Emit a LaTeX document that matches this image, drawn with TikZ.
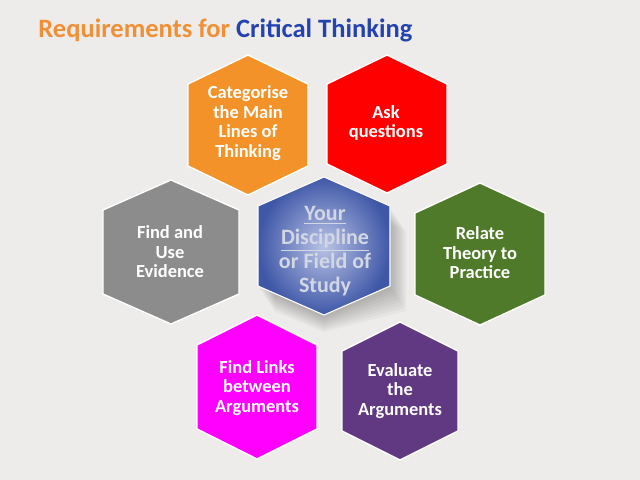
\documentclass[tikz,border=0pt]{standalone}
\usepackage{fontspec}
\setmainfont{Carlito}
\definecolor{bg}{HTML}{EDECEA}
\definecolor{torange}{HTML}{EF9036}
\definecolor{tblue}{HTML}{2443AE}
\definecolor{horange}{HTML}{F39228}
\definecolor{hred}{HTML}{FF0000}
\definecolor{hgray}{HTML}{8C8C8C}
\definecolor{hgreen}{HTML}{4E7A29}
\definecolor{hmag}{HTML}{FF00FF}
\definecolor{hpurple}{HTML}{613882}
\definecolor{hblue}{HTML}{3F57A7}
\definecolor{hbluelight}{HTML}{B9C3E6}
\definecolor{ctext}{HTML}{D3D7E4}
\newcommand{\hexcell}[6]{%
  \path[#5] (#1,#2-#4) -- (#1+#3,#2-#4+#6) -- (#1+#3,#2+#4-#6) -- (#1,#2+#4)
    -- (#1-#3,#2+#4-#6) -- (#1-#3,#2-#4+#6) -- cycle;}
\tikzset{
  hexfill/.style={fill=#1, draw=white, line width=0.8pt},
  hextext/.style={text=white, font=\bfseries\fontsize{10.5}{11.1}\selectfont, align=center, inner sep=0pt},
  centertext/.style={text=ctext, font=\bfseries\fontsize{12.5}{13.7}\selectfont, align=center, inner sep=0pt},
  titletext/.style={font=\bfseries\fontsize{15.1}{17}\selectfont, anchor=west, inner sep=0pt},
  glow/.style={fill=black, fill opacity=0.03}
}
\begin{document}
\begin{tikzpicture}[x=0.02cm,y=-0.02cm]
\fill[bg] (0,0) rectangle (640,480);
\useasboundingbox (0,0) rectangle (640,480);
% title
\node[titletext] (title) at (38,30) {\textcolor{torange}{Requirements for} \textcolor{tblue}{Critical Thinking}};
% soft glow round the centre hexagon
\foreach \s in {2,4,...,16}{
  \hexcell{324}{247}{66+\s}{69+\s}{glow}{29+\s/2}
}
% outer hexagons
\hexcell{248}{125}{60}{70}{hexfill=horange}{29}
\hexcell{387}{124}{60}{69}{hexfill=hred}{29}
\hexcell{171}{252}{68}{72}{hexfill=hgray}{30}
\hexcell{480}{254}{65}{71}{hexfill=hgreen}{30}
\hexcell{257}{387}{60}{72}{hexfill=hmag}{30}
\hexcell{400}{391}{58}{69}{hexfill=hpurple}{29}
% centre hexagon
\hexcell{324}{246}{66}{69}{inner color=hbluelight, outer color=hblue, shading=radial, draw=white, line width=0.6pt}{29}
% texts
\node[hextext] (categorise) at (248,123) {Categorise\\the Main\\Lines of\\Thinking};
\node[hextext] (ask) at (386,123) {Ask\\questions};
\node[hextext] (evidence) at (170,252) {Find and\\Use\\Evidence};
\node[hextext] (relate) at (480,253) {Relate\\Theory to\\Practice};
\node[hextext] (links) at (257,388) {Find Links\\between\\Arguments};
\node[hextext] (evaluate) at (400,391) {Evaluate\\the\\Arguments};
\node[centertext] (centre) at (325,251) {\underline{Your}\\\underline{Discipline}\\or Field of\\Study};
\end{tikzpicture}
\end{document}
